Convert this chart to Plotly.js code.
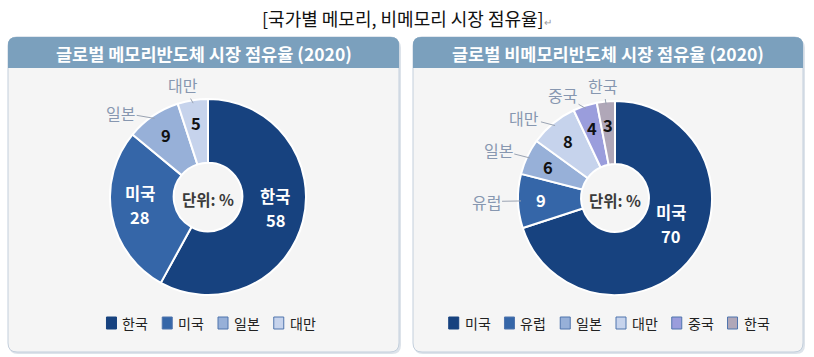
<!DOCTYPE html>
<html><head><meta charset="utf-8">
<script src="https://cdn.plot.ly/plotly-3.0.1.min.js"></script>
<style>html,body{margin:0;padding:0;background:#fff;} #chart{width:814px;height:357px;}</style>
</head><body><div id="chart"></div>
<script>
// ---------- data ----------
const mainTitle = '[국가별 메모리, 비메모리 시장 점유율]';
const memoryTitle = '글로벌 메모리반도체 시장 점유율 (2020)';
const nonMemoryTitle = '글로벌 비메모리반도체 시장 점유율 (2020)';
const unitText = '단위: %';
const memoryLabels = ['한국', '미국', '일본', '대만'];
const memoryValues = [58, 28, 9, 5];
const nonMemoryLabels = ['미국', '유럽', '일본', '대만', '중국', '한국'];
const nonMemoryValues = [70, 9, 6, 8, 4, 3];

// ---------- style ----------
const W = 814, H = 357;
const FONT = '"Noto Sans CJK KR", "Noto Sans", sans-serif';
const memoryColors = ['#17427f', '#3566a8', '#97b0d8', '#c6d3ec'];
const memoryTextColors = ['#ffffff', '#ffffff', '#111111', '#111111'];
const memoryLabelNudge = [0, 0, -8, -2];          // degrees, placement of outside names
const nonMemoryColors = ['#17427f', '#3566a8', '#97b0d8', '#c6d3ec', '#9a9ddc', '#b0a7b8'];
const nonMemoryTextColors = ['#ffffff', '#ffffff', '#111111', '#111111', '#111111', '#111111'];
const nonMemoryLabelNudge = [0, 0, 0, -5, -6, 0];
const outsideLabelColor = '#8797b0';
const HOLE = 0.35;

const px = x => x / W;
const py = y => 1 - y / H;

const pies = [
  {labels: memoryLabels, values: memoryValues, colors: memoryColors, textColors: memoryTextColors, nudge: memoryLabelNudge,
   cx: 208, cy: 197, R: 98, title: memoryTitle, panel: [8, 37, 399, 352], legendCx: 210},
  {labels: nonMemoryLabels, values: nonMemoryValues, colors: nonMemoryColors, textColors: nonMemoryTextColors, nudge: nonMemoryLabelNudge,
   cx: 615, cy: 198, R: 97, title: nonMemoryTitle, panel: [413, 37, 803, 352], legendCx: 608}
];

function roundRectPath(x0, y0, x1, y1, rTop, rBot) {
  const P = (x, y) => px(x) + ',' + py(y);
  return 'M' + P(x0 + rTop, y0) + ' L' + P(x1 - rTop, y0) + ' Q' + P(x1, y0) + ' ' + P(x1, y0 + rTop) +
    ' L' + P(x1, y1 - rBot) + ' Q' + P(x1, y1) + ' ' + P(x1 - rBot, y1) +
    ' L' + P(x0 + rBot, y1) + ' Q' + P(x0, y1) + ' ' + P(x0, y1 - rBot) +
    ' L' + P(x0, y0 + rTop) + ' Q' + P(x0, y0) + ' ' + P(x0 + rTop, y0) + ' Z';
}

const measureCtx = document.createElement('canvas').getContext('2d');
function textWidth(t, size) {
  measureCtx.font = size + 'px ' + FONT;
  const w = measureCtx.measureText(t).width;
  return w > 0 ? w : t.length * size;
}

const traces = [];
const shapes = [];
const annotations = [];

annotations.push({xref: 'paper', yref: 'paper', x: px(407), y: py(18), xanchor: 'center', yanchor: 'middle',
  showarrow: false, text: mainTitle + '<span style="color:#9a9a9a;font-size:10px">↵</span>',
  font: {family: FONT, size: 18, color: '#111111'}});

pies.forEach(p => {
  const [x0, y0, x1, y1] = p.panel;
  shapes.push({type: 'path', xref: 'paper', yref: 'paper', layer: 'below', path: roundRectPath(x0 + 1, y0 + 2, x1 + 2, y1 + 2, 9, 9),
    fillcolor: '#dde3ea', line: {width: 0}});
  shapes.push({type: 'path', xref: 'paper', yref: 'paper', layer: 'below', path: roundRectPath(x0, y0, x1, y1, 9, 9),
    fillcolor: '#f5f5f5', line: {color: '#c3cfdc', width: 1}});
  shapes.push({type: 'path', xref: 'paper', yref: 'paper', layer: 'below', path: roundRectPath(x0, y0, x1, y0 + 31, 8, 0),
    fillcolor: '#7ba0bd', line: {width: 0}});
  annotations.push({xref: 'paper', yref: 'paper', x: px((x0 + x1) / 2), y: py(y0 + 16), xanchor: 'center', yanchor: 'middle',
    showarrow: false, text: p.title, font: {family: FONT, size: 17.5, color: '#ffffff', weight: 'bold'}});

  traces.push({
    type: 'pie', labels: p.labels, values: p.values, sort: false, direction: 'clockwise', rotation: 0,
    hole: HOLE, textinfo: 'none', hoverinfo: 'label+value',
    marker: {colors: p.colors, line: {color: '#ffffff', width: 2}},
    domain: {x: [px(p.cx - p.R), px(p.cx + p.R)], y: [py(p.cy + p.R), py(p.cy - p.R)]},
    showlegend: false
  });

  annotations.push({xref: 'paper', yref: 'paper', x: px(p.cx), y: py(p.cy + 2), xanchor: 'center', yanchor: 'middle',
    showarrow: false, text: unitText, font: {family: FONT, size: 15.5, color: '#3a3a3a', weight: 'bold'}});

  const total = p.values.reduce((a, b) => a + b, 0);
  let cum = 0;
  p.values.forEach((v, i) => {
    const f = (cum + v / 2) / total;
    cum += v;
    const th = 2 * Math.PI * f;
    const dx = Math.sin(th), dy = -Math.cos(th);
    const big = v / total >= 0.2;
    if (big) {
      const rt = p.R * 0.71;
      const tx = p.cx + dx * rt, ty = p.cy + dy * rt * 0.65;
      annotations.push({xref: 'paper', yref: 'paper', x: px(tx), y: py(ty - 12), xanchor: 'center', yanchor: 'middle',
        showarrow: false, text: p.labels[i], font: {family: FONT, size: 16.5, color: p.textColors[i], weight: 'bold'}});
      annotations.push({xref: 'paper', yref: 'paper', x: px(tx), y: py(ty + 12), xanchor: 'center', yanchor: 'middle',
        showarrow: false, text: String(v), font: {family: FONT, size: 16.5, color: p.textColors[i], weight: 'bold'}});
    } else {
      const rt = p.R * 0.76;
      annotations.push({xref: 'paper', yref: 'paper', x: px(p.cx + dx * rt), y: py(p.cy + dy * rt), xanchor: 'center', yanchor: 'middle',
        showarrow: false, text: String(v), font: {family: FONT, size: 16.5, color: p.textColors[i], weight: 'bold'}});
      const tipR = p.R - 3;
      const tipX = p.cx + dx * tipR, tipY = p.cy + dy * tipR;
      const th2 = th + p.nudge[i] * Math.PI / 180;
      const ex = Math.sin(th2), ey = -Math.cos(th2);
      const lr = p.R + 16;
      const lx = p.cx + ex * lr + ex * 16, ly = p.cy + ey * lr;
      annotations.push({xref: 'paper', yref: 'paper', x: px(tipX), y: py(tipY),
        ax: lx - tipX, ay: ly - tipY, axref: 'pixel', ayref: 'pixel',
        showarrow: true, arrowhead: 0, arrowwidth: 1, arrowcolor: '#9aa3b2', standoff: 0,
        text: p.labels[i], font: {family: FONT, size: 16, color: outsideLabelColor}});
    }
  });

  // legend (squares + names), laid out from measured text widths
  const sq = 10, gap = 4, spacing = 16, lfs = 14, ly = 323;
  const widths = p.labels.map(l => textWidth(l, lfs));
  const totalW = widths.reduce((a, w) => a + sq + gap + w, 0) + spacing * (p.labels.length - 1);
  let lx = p.legendCx - totalW / 2;
  p.labels.forEach((l, i) => {
    const border = i === 0 ? p.colors[i] : '#4f74ad';
    shapes.push({type: 'rect', xref: 'paper', yref: 'paper', x0: px(lx), x1: px(lx + sq), y0: py(ly + sq / 2 + 1), y1: py(ly - sq / 2 - 1),
      fillcolor: p.colors[i], line: {color: border, width: 1}});
    annotations.push({xref: 'paper', yref: 'paper', x: px(lx + sq + gap), y: py(ly), xanchor: 'left', yanchor: 'middle',
      showarrow: false, text: l, font: {family: FONT, size: lfs, color: '#222222'}});
    lx += sq + gap + widths[i] + spacing;
  });
});

const layout = {
  width: W, height: H, margin: {l: 0, r: 0, t: 0, b: 0},
  paper_bgcolor: '#ffffff', plot_bgcolor: '#ffffff',
  font: {family: FONT},
  showlegend: false,
  shapes: shapes, annotations: annotations
};

Plotly.newPlot('chart', traces, layout, {displayModeBar: false, staticPlot: true});
</script></body></html>
